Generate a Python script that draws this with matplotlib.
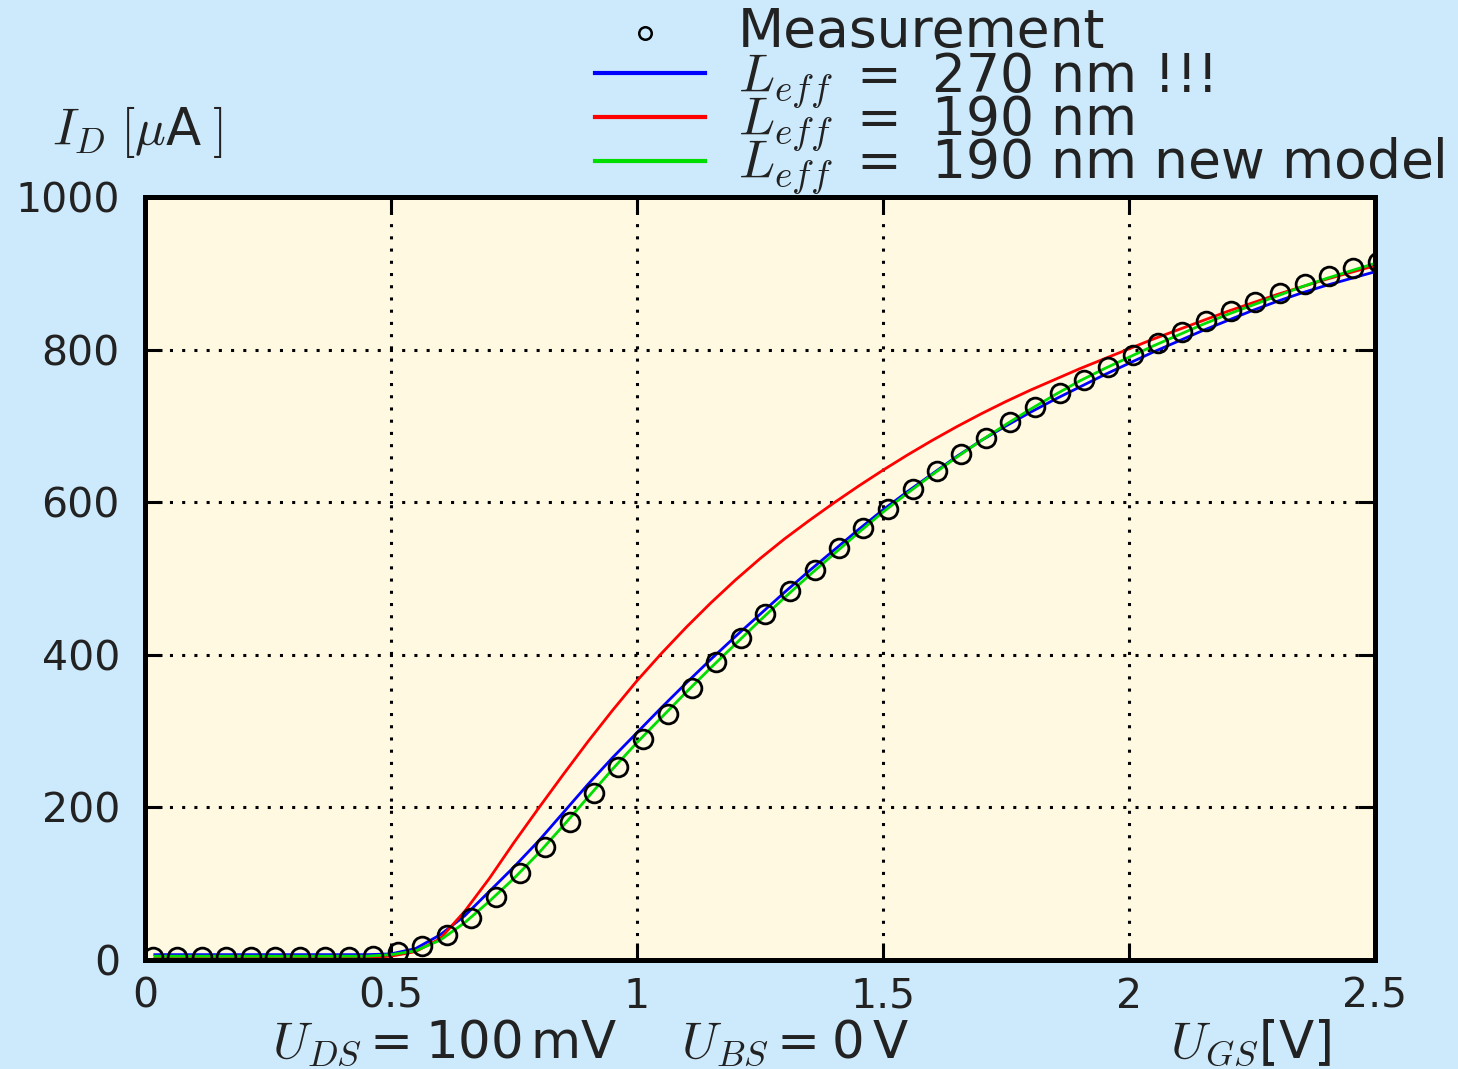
import numpy as np
import matplotlib
matplotlib.use("Agg")
import matplotlib.pyplot as plt
from matplotlib.lines import Line2D

plt.rcParams['mathtext.fontset'] = 'cm'
plt.rcParams['font.family'] = ['DejaVu Sans']

# measured drain current (circles)
meas_x = [0.016, 0.066, 0.116, 0.165, 0.215, 0.265, 0.315, 0.365, 0.414, 0.464,
          0.514, 0.564, 0.614, 0.663, 0.713, 0.763, 0.813, 0.863, 0.912, 0.962,
          1.012, 1.062, 1.112, 1.161, 1.211, 1.261, 1.311, 1.361, 1.410, 1.460,
          1.510, 1.560, 1.610, 1.659, 1.709, 1.759, 1.809, 1.859, 1.908, 1.958,
          2.008, 2.058, 2.108, 2.157, 2.207, 2.257, 2.307, 2.357, 2.406, 2.456,
          2.506]
meas_y = [4, 4, 4, 4, 4, 4, 4, 4, 4, 5,
          11, 18, 33, 55, 83, 114, 148, 181, 219, 253,
          289, 322, 356, 390, 422, 453, 483, 511, 540, 566,
          591, 617, 641, 663, 684, 705, 725, 743, 760, 777,
          793, 808, 823, 838, 851, 863, 874, 886, 896, 907,
          915]

# simulated curves
sim_x = [0.02, 0.1, 0.2, 0.3, 0.4, 0.45,
         0.5, 0.55, 0.6, 0.65, 0.7, 0.75, 0.8, 0.85, 0.9, 0.95,
         1.0, 1.05, 1.1, 1.15, 1.2, 1.25, 1.3, 1.35, 1.4, 1.45,
         1.5, 1.55, 1.6, 1.65, 1.7, 1.75, 1.8, 1.85, 1.9, 1.95,
         2.0, 2.05, 2.1, 2.15, 2.2, 2.25, 2.3, 2.35, 2.4, 2.45, 2.5]
blue_y = [7, 7, 7, 7, 7, 7,
          8, 15, 33, 58, 90, 122, 156, 193, 230, 265,
          298, 331, 363, 394, 424, 453, 482, 510, 537, 564,
          590, 614, 637, 660, 681, 700, 718, 735, 751, 767,
          782, 797, 811, 825, 838, 851, 863, 874, 884, 893, 902]
red_y = [2, 2, 2, 2, 2, 3,
         5, 11, 28, 64, 107, 154, 199, 243, 286, 327,
         366, 402, 436, 468, 498, 526, 552, 576, 599, 621,
         642, 662, 681, 699, 716, 732, 747, 761, 775, 788,
         801, 814, 826, 838, 850, 861, 872, 882, 892, 901, 910]
green_y = [5, 5, 5, 5, 5, 5,
           7, 12, 26, 49, 77, 107, 140, 176, 213, 250,
           285, 318, 351, 383, 414, 445, 475, 504, 532, 560,
           587, 612, 636, 659, 681, 702, 722, 741, 759, 775,
           790, 805, 819, 833, 846, 858, 870, 882, 893, 903, 913]

legend_labels = ['Measurement',
                 r'$L_{eff}\,$ = $\;$270 nm !!!',
                 r'$L_{eff}\,$ = $\;$190 nm',
                 r'$L_{eff}\,$ = $\;$190 nm new model']

W, H = 1458, 1069
bg = '#cdeafc'
txt = '#222222'

fig = plt.figure(figsize=(W / 100, H / 100), dpi=100, facecolor=bg)
ax = fig.add_axes([145 / W, 1 - 960 / H, (1375 - 145) / W, (960 - 197) / H])
ax.set_facecolor('#fff9e1')

ax.plot(sim_x, blue_y, color='#0000ff', lw=2, zorder=3)
ax.plot(sim_x, red_y, color='#ff0000', lw=2, zorder=3)
ax.plot(sim_x, green_y, color='#00dd00', lw=2, zorder=3)
ax.plot(meas_x, meas_y, 'o', mfc='none', mec='black', ms=13.5, mew=2, zorder=4)

ax.set_xlim(0, 2.5)
ax.set_ylim(0, 1000)
ax.set_xticks([0, 0.5, 1, 1.5, 2, 2.5])
ax.set_xticklabels(['0', '0.5', '1', '1.5', '2', '2.5'])
ax.set_yticks([0, 200, 400, 600, 800, 1000])

ax.grid(True, color='black', lw=2.2, linestyle=(0, (1, 3)))
ax.set_axisbelow(True)
for s in ax.spines.values():
    s.set_linewidth(3.6)
    s.set_zorder(5)

ax.tick_params(direction='in', length=12, width=2.2, top=True, right=True,
               labelsize=29.5, colors='black', labelcolor=txt)
ax.tick_params(axis='x', pad=12)
ax.tick_params(axis='y', pad=18)


def fx(px):
    return px / W


def fy(py):
    return 1 - py / H


# legend drawn by hand above the axes
fig.add_artist(Line2D([fx(645)], [fy(33)], marker='o', mfc='none', mec='black',
                      ms=9, mew=1.8, ls='none'))
for py, col in zip([73, 117, 161], ['#0000ff', '#ff0000', '#00dd00']):
    fig.add_artist(Line2D([fx(595), fx(705)], [fy(py), fy(py)], color=col, lw=3))
for py, lab in zip([47, 91, 134, 177], legend_labels):
    fig.text(fx(738), fy(py), lab, fontsize=38.5, color=txt, va='baseline', ha='left')

# axis labels
fig.text(fx(52), fy(145), r'$I_D\;[\mu$A$\;]$', fontsize=37, color=txt, va='baseline')
fig.text(fx(272), fy(1057),
         r'$U_{DS}\,$=$\;$100$\,$mV$\quad\;\,U_{BS}\,$=$\;$0$\,$V',
         fontsize=37, color=txt, va='baseline')
fig.text(fx(1170), fy(1057), r'$U_{GS}$[V]', fontsize=37, color=txt, va='baseline')

fig.savefig('out.png', dpi=100, facecolor=bg)
